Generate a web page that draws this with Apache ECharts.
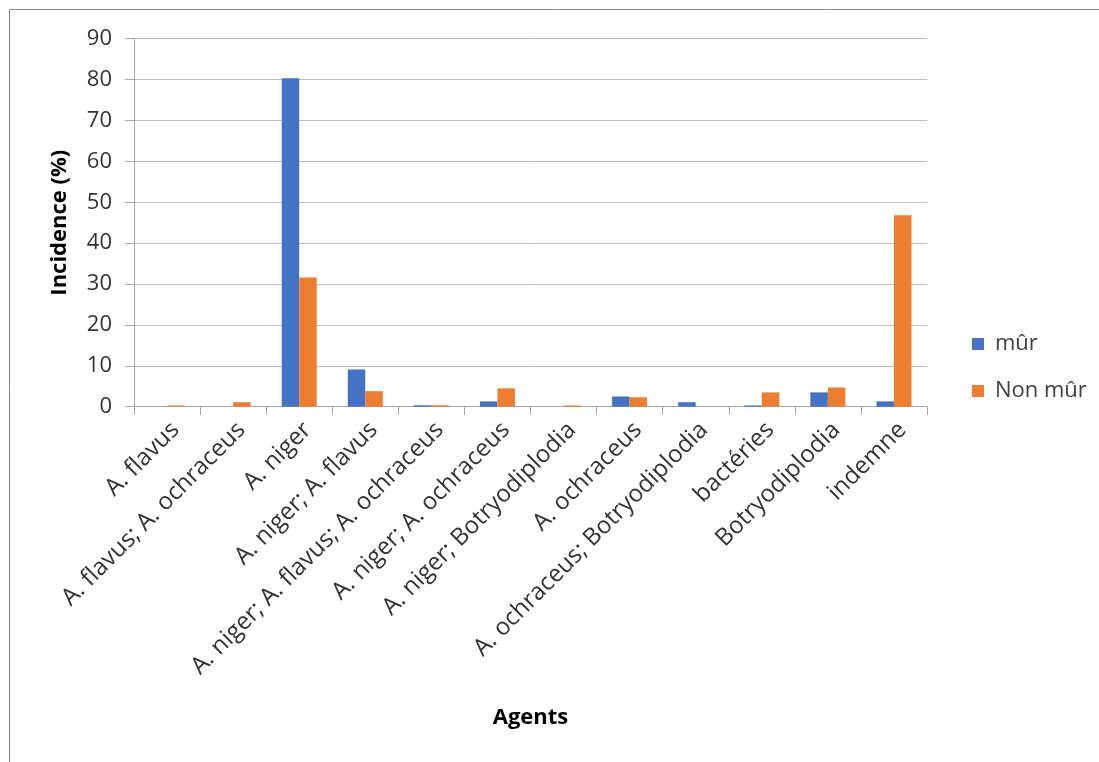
<!DOCTYPE html>
<html>
<head>
<meta charset="utf-8">
<script src="https://cdn.jsdelivr.net/npm/echarts@6/dist/echarts.min.js"></script>
<style>
  html, body { margin: 0; padding: 0; background: #ffffff; }
  #chart { width: 1099px; height: 762px; }
</style>
</head>
<body>
<div id="chart"></div>
<script>
// Agents responsables et incidence (%) selon la maturité
const categories = [
  'A. flavus',
  'A. flavus; A. ochraceus',
  'A. niger',
  'A. niger; A. flavus',
  'A. niger; A. flavus; A. ochraceus',
  'A. niger; A. ochraceus',
  'A. niger; Botryodiplodia',
  'A. ochraceus',
  'A. ochraceus; Botryodiplodia',
  'bactéries',
  'Botryodiplodia',
  'indemne'
];
const seriesNames = ['mûr', 'Non mûr'];
const murValues    = [0, 0, 80.3, 9.1, 0.35, 1.3, 0, 2.5, 1.1, 0.3, 3.5, 1.3];
const nonMurValues = [0.3, 1.1, 31.6, 3.8, 0.35, 4.5, 0.3, 2.3, 0, 3.5, 4.7, 46.8];
const yTicks = [0, 10, 20, 30, 40, 50, 60, 70, 80, 90];

const FONT = '"Open Sans", "Liberation Sans", sans-serif';
const chart = echarts.init(document.getElementById('chart'), null, { renderer: 'canvas' });

chart.setOption({
  backgroundColor: '#ffffff',
  animation: false,
  graphic: [{
    type: 'rect',
    shape: { x: 9.5, y: 9.5, width: 1200, height: 900 },
    style: { fill: 'none', stroke: '#8c8c8c', lineWidth: 1 },
    silent: true
  }],
  grid: { left: 134, right: 172, top: 38.7, bottom: 355.3 },
  legend: {
    orient: 'vertical',
    left: 972,
    top: 333,
    padding: 0,
    itemWidth: 12,
    itemHeight: 12,
    itemGap: 25,
    icon: 'rect',
    data: seriesNames,
    textStyle: { fontFamily: FONT, fontSize: 22, color: '#404040', padding: [0, 0, 0, 6] }
  },
  xAxis: {
    type: 'category',
    data: categories,
    name: 'Agents',
    nameLocation: 'middle',
    nameGap: 300,
    nameTextStyle: { fontFamily: FONT, fontSize: 22, fontWeight: 'bold', color: '#000000' },
    axisLine: { lineStyle: { color: '#a6a6a6', width: 1 } },
    axisTick: { show: true, length: 8, lineStyle: { color: '#a6a6a6' } },
    axisLabel: {
      interval: 0,
      rotate: 45,
      margin: 11,
      verticalAlign: 'top',
      fontFamily: FONT,
      fontSize: 24,
      color: '#333333'
    }
  },
  yAxis: {
    type: 'value',
    min: 0,
    max: 90,
    interval: 10,
    name: 'Incidence (%)',
    nameLocation: 'middle',
    nameRotate: 90,
    nameGap: 63,
    nameTextStyle: { fontFamily: FONT, fontSize: 22, fontWeight: 'bold', color: '#000000' },
    axisLine: { show: true, lineStyle: { color: '#a6a6a6', width: 1 } },
    axisTick: { show: true, length: 9, lineStyle: { color: '#a6a6a6' } },
    splitLine: { show: true, lineStyle: { color: '#bfbfbf', width: 1 } },
    axisLabel: {
      margin: 22,
      fontFamily: FONT,
      fontSize: 22,
      color: '#333333',
      formatter: function (v) { return yTicks.indexOf(v) >= 0 ? String(v) : ''; }
    }
  },
  series: [
    {
      name: seriesNames[0],
      type: 'bar',
      data: murValues,
      barGap: '0%',
      barCategoryGap: '47%',
      itemStyle: { color: '#4472c4' }
    },
    {
      name: seriesNames[1],
      type: 'bar',
      data: nonMurValues,
      barGap: '0%',
      barCategoryGap: '47%',
      itemStyle: { color: '#ed7d31' }
    }
  ]
});
</script>
</body>
</html>
